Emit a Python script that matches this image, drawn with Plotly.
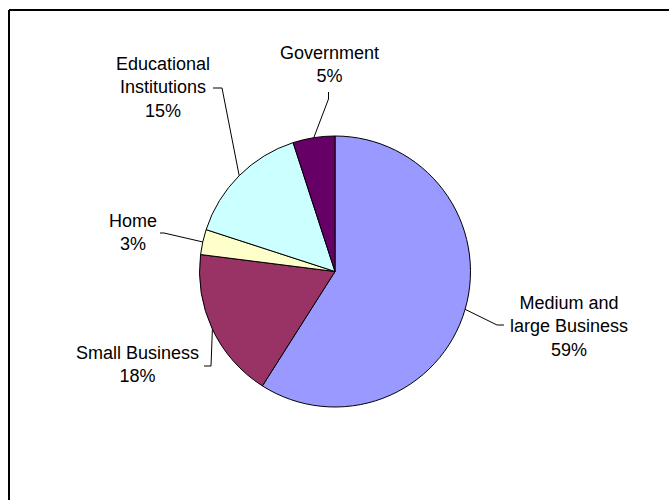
import math
import plotly.graph_objects as go

# Share of users by segment (clockwise from 12 o'clock)
segments = ["Medium and large Business", "Small Business", "Home",
            "Educational Institutions", "Government"]
shares = [59, 18, 3, 15, 5]
label_lines = [["Medium and", "large Business", "59%"],
               ["Small Business", "18%"],
               ["Home", "3%"],
               ["Educational", "Institutions", "15%"],
               ["Government", "5%"]]
colors = ["#9999FF", "#993366", "#FFFFCC", "#CCFFFF", "#660066"]

W, H = 669, 500
CX, CY, R = 335.0, 271.5, 135.5   # pie centre and radius, pixels

# Label block centres and leader elbows (pixels)
label_pos = [(569, 326), (137, 364.5), (133, 233), (163, 88), (329, 64)]
leader_elbows = [[(504, 325), (497, 325)],
                 [(204, 366), (211, 366)],
                 [(160, 233), (164, 233)],
                 [(213, 88), (222, 88)],
                 [(328.5, 92), (328.5, 99)]]


def to_paper(x, y):
    return x / W, 1 - y / H


fig = go.Figure(go.Pie(
    labels=segments,
    values=shares,
    sort=False,
    direction="clockwise",
    rotation=0,
    textinfo="none",
    hoverinfo="label+percent",
    marker=dict(colors=colors, line=dict(color="black", width=1)),
    domain=dict(x=[(CX - R) / W, (CX + R) / W],
                y=[1 - (CY + R) / H, 1 - (CY - R) / H]),
    showlegend=False,
))

shapes = []
annotations = []
total = sum(shares)
cum = 0.0
for i, v in enumerate(shares):
    mid = (cum + v / 2) / total * 2 * math.pi
    cum += v
    ex = CX + R * math.sin(mid)
    ey = CY - R * math.cos(mid)
    pts = leader_elbows[i] + [(ex, ey)]
    path = ""
    for j, (px, py) in enumerate(pts):
        qx, qy = to_paper(px, py)
        path += ("M" if j == 0 else "L") + f"{qx:.5f},{qy:.5f} "
    shapes.append(dict(type="path", xref="paper", yref="paper", path=path.strip(),
                       line=dict(color="black", width=1)))
    lx, ly = to_paper(*label_pos[i])
    annotations.append(dict(x=lx, y=ly, xref="paper", yref="paper",
                            text="<br>".join(label_lines[i]), showarrow=False,
                            xanchor="center", yanchor="middle", align="center",
                            font=dict(family="Liberation Sans, Arial, sans-serif",
                                      size=18, color="black")))

# Chart area border (top and left edges)
x0, y0 = to_paper(9, 10)
shapes.append(dict(type="line", xref="paper", yref="paper", x0=x0, y0=y0, x1=1.05, y1=y0,
                   line=dict(color="black", width=2)))
shapes.append(dict(type="line", xref="paper", yref="paper", x0=x0, y0=y0, x1=x0, y1=-0.05,
                   line=dict(color="black", width=2)))

fig.update_layout(
    width=W, height=H,
    margin=dict(l=0, r=0, t=0, b=0),
    paper_bgcolor="white",
    plot_bgcolor="white",
    shapes=shapes,
    annotations=annotations,
)

fig.write_html("out.html")
